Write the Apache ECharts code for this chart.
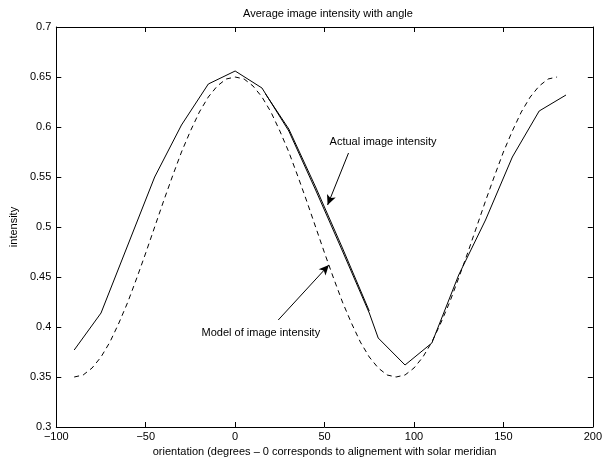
<!DOCTYPE html>
<html>
<head>
<meta charset="utf-8">
<title>Average image intensity with angle</title>
<script src="https://cdn.jsdelivr.net/npm/echarts@6/dist/echarts.min.js"></script>
<style>
    html, body { margin: 0; padding: 0; background: #fff; }
    #chart { width: 605px; height: 465px; }
</style>
</head>
<body>
<div id="chart"></div>
<script>
// measured actual intensity (solid line)
const actualAngles = [-90, -75, -60, -45, -30, -15, 0, 15, 30, 45, 60, 75, 80, 95, 110, 125, 140, 155, 170, 185]
const actualValues = [0.377, 0.414, 0.482, 0.550, 0.602, 0.643, 0.656, 0.639, 0.596, 0.537, 0.476, 0.414, 0.389, 0.362, 0.384, 0.452, 0.507, 0.570, 0.616, 0.632]

// second pass over the falling part (drawn as a near-duplicate line)
const repeatAngles = [17, 30, 45, 60, 75]
const repeatValues = [0.633, 0.598, 0.540, 0.479, 0.416]

// model of image intensity (dashed line)
const modelAngles = [-90, -85, -80, -75, -70, -65, -60, -55, -50, -45, -40, -35, -30, -25, -20, -15, -10, -5,
    0, 5, 10, 15, 20, 25, 30, 35, 40, 45, 50, 55, 60, 65, 70, 75, 80, 85, 90,
    95, 100, 105, 110, 115, 120, 125, 130, 135, 140, 145, 150, 155, 160, 165, 170, 175, 180]
const modelValues = [0.350, 0.352, 0.359, 0.370, 0.385, 0.404, 0.425, 0.449, 0.474, 0.500, 0.526, 0.551, 0.575, 0.596, 0.615, 0.630, 0.641, 0.648,
    0.650, 0.648, 0.641, 0.630, 0.615, 0.596, 0.575, 0.551, 0.526, 0.500, 0.474, 0.449, 0.425, 0.404, 0.385, 0.370, 0.359, 0.352, 0.350,
    0.352, 0.359, 0.370, 0.385, 0.404, 0.425, 0.449, 0.474, 0.500, 0.526, 0.551, 0.575, 0.596, 0.615, 0.630, 0.641, 0.648, 0.650]

// annotations: [text anchor, arrow tail, arrow head] in data units
const actualNote = {text: 'Actual image intensity', at: [52.8, 0.585], from: [63.4, 0.574], to: [51.7, 0.522]}
const modelNote = {text: 'Model of image intensity', at: [-18.8, 0.394], from: [24.1, 0.407], to: [52.4, 0.462]}

const xTicks = {min: -100, max: 200, interval: 50}
const yTicks = {min: 0.3, max: 0.7, interval: 0.05}

const font = 'Liberation Sans, Arial, Helvetica, sans-serif'

const zip = (xs, ys) => xs.map((x, i) => [x, ys[i]])
const minus = v => String(v).replace('-', '\u2212')

const axisBase = {
    type: 'value',
    axisLine: {show: true, onZero: false, lineStyle: {color: '#000', width: 1}},
    axisTick: {show: true, inside: true, length: 5, lineStyle: {color: '#000'}},
    splitLine: {show: false}
}

const chart = echarts.init(document.getElementById('chart'), null, {renderer: 'canvas'})

chart.setOption({
    animation: false,
    backgroundColor: '#fff',
    textStyle: {fontFamily: font},
    title: {
        text: 'Average image intensity with angle',
        left: 323,
        textAlign: 'center',
        top: 3,
        textStyle: {fontSize: 11, fontWeight: 'normal', color: '#000', fontFamily: font}
    },
    grid: {left: 51, top: 27, width: 544, height: 400},
    xAxis: [
        Object.assign({}, axisBase, {
            position: 'bottom',
            min: xTicks.min, max: xTicks.max, interval: xTicks.interval,
            axisLabel: {color: '#000', fontSize: 11, margin: 4, formatter: minus, fontFamily: font},
            name: 'orientation (degrees \u2013 0 corresponds to alignement with solar meridian',
            nameLocation: 'middle',
            nameGap: 19,
            nameTextStyle: {color: '#000', fontSize: 11, fontFamily: font}
        }),
        Object.assign({}, axisBase, {
            position: 'top',
            min: xTicks.min, max: xTicks.max, interval: xTicks.interval,
            axisLabel: {show: false}
        })
    ],
    yAxis: [
        Object.assign({}, axisBase, {
            position: 'left',
            min: yTicks.min, max: yTicks.max, interval: yTicks.interval,
            axisLabel: {color: '#000', fontSize: 11, margin: 5, fontFamily: font,
                formatter: v => String(+v.toFixed(2))},
            name: 'intensity',
            nameLocation: 'middle',
            nameGap: 33,
            nameTextStyle: {color: '#000', fontSize: 11, fontFamily: font}
        }),
        Object.assign({}, axisBase, {
            position: 'right',
            min: yTicks.min, max: yTicks.max, interval: yTicks.interval,
            axisLabel: {show: false}
        })
    ],
    series: [
        {
            name: 'model',
            type: 'line',
            data: zip(modelAngles, modelValues),
            showSymbol: false,
            lineStyle: {color: '#000', width: 1, type: [5, 4]},
            z: 2,
            markLine: {
                silent: true,
                symbol: ['none', 'arrow'],
                symbolSize: [7, 10],
                label: {show: false},
                lineStyle: {color: '#000', width: 1, type: 'solid'},
                data: [
                    [{coord: actualNote.from}, {coord: actualNote.to}],
                    [{coord: modelNote.from}, {coord: modelNote.to}]
                ]
            },
            markPoint: {
                silent: true,
                symbol: 'circle',
                symbolSize: 0,
                label: {
                    show: true,
                    position: 'right',
                    distance: 0,
                    color: '#000',
                    fontSize: 11,
                    fontFamily: font,
                    formatter: p => p.name
                },
                data: [
                    {name: actualNote.text, coord: actualNote.at},
                    {name: modelNote.text, coord: modelNote.at}
                ]
            }
        },
        {
            name: 'actual',
            type: 'line',
            data: zip(actualAngles, actualValues),
            showSymbol: false,
            lineStyle: {color: '#000', width: 1},
            z: 3
        },
        {
            name: 'actual repeat',
            type: 'line',
            data: zip(repeatAngles, repeatValues),
            showSymbol: false,
            lineStyle: {color: '#000', width: 1},
            z: 3
        }
    ]
})
</script>
</body>
</html>
